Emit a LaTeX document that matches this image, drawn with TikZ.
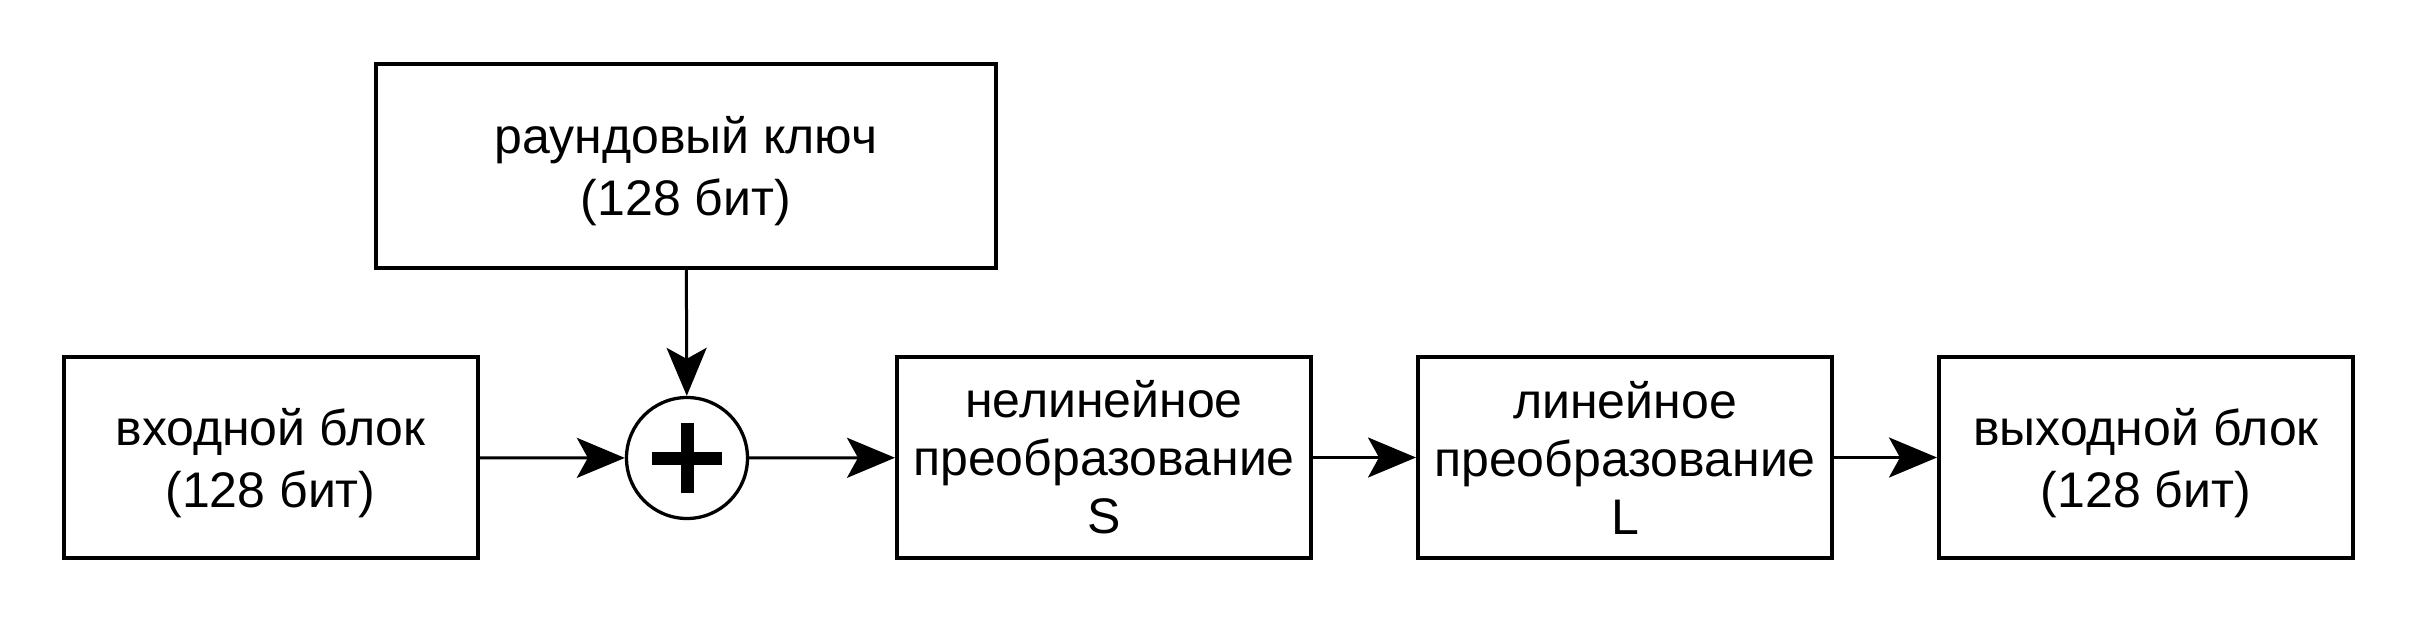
\documentclass[tikz,border=0pt]{standalone}
\usepackage{fontspec}
\setmainfont{Liberation Sans}
\usetikzlibrary{arrows.meta}

\tikzset{
  blockbox/.style={draw, line width=4pt, minimum width=414pt, minimum height=201pt,
    align=center, inner sep=0pt, font=\fontsize{50}{58}\selectfont},
  twoline/.style={font=\fontsize{50}{62}\selectfont, text depth=0pt, yshift=0pt},
  flow/.style={line width=3pt, -{Stealth[length=48pt,width=40pt,inset=11pt]}},
}

\begin{document}
\begin{tikzpicture}[x=1pt,y=1pt]
    \useasboundingbox (0,0) rectangle (2416,625);
    \node[blockbox, twoline] (in) at (270.5,167.5) {входной блок\\(128 бит)};
    \node[blockbox, twoline, minimum width=620pt, minimum height=204pt] (key) at (686,459) {раундовый ключ\\(128 бит)};
    \node[draw, circle, line width=3.3pt, minimum size=121pt, inner sep=0pt] (xor) at (687,167) {};
    \draw[line width=13pt] ([xshift=-35pt]xor.center) -- ([xshift=35pt]xor.center);
    \draw[line width=13pt] ([yshift=-35pt]xor.center) -- ([yshift=35pt]xor.center);
    \node[blockbox] (S) at (1104,167.5) {нелинейное\\преобразование\\S};
    \node[blockbox] (L) at (1625,167.5) {линейное\\преобразование\\L};
    \node[blockbox, twoline] (out) at (2146,167.5) {выходной блок\\(128 бит)};
    % connectors
    \draw[flow] (in) -- (xor);
    \draw[flow] (key) -- (xor);
    \draw[flow] (xor) -- (S);
    \draw[flow] (S) -- (L);
    \draw[flow] (L) -- (out);
  \end{tikzpicture}
\end{document}
